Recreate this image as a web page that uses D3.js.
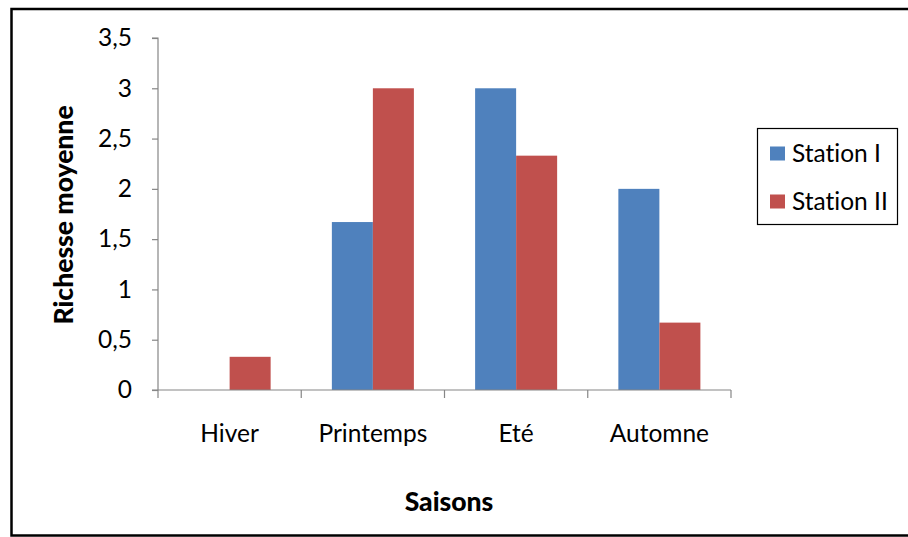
<!DOCTYPE html>
<html>
<head>
<meta charset="utf-8">
<script src="https://cdn.jsdelivr.net/npm/d3@7"></script>
<style>
  html, body { margin: 0; padding: 0; background: #fff; }
  svg { display: block; }
  text { font-family: Lato, "Open Sans", sans-serif; fill: #000; font-variant-ligatures: none; font-feature-settings: "liga" 0, "clig" 0; }
</style>
</head>
<body>
<script>
const categories = ["Hiver", "Printemps", "Eté", "Automne"];
const seriesNames = ["Station I", "Station II"];
const stationI = [0, 1.67, 3, 2];
const stationII = [0.33, 3, 2.33, 0.67];
const yTicks = [0, 0.5, 1, 1.5, 2, 2.5, 3, 3.5];
const yTickLabels = ["0", "0,5", "1", "1,5", "2", "2,5", "3", "3,5"];
const colors = ["#4F81BD", "#C0504D"];

(function () {
const W = 908, H = 537;
const svg = d3.select("body").append("svg").attr("width", W).attr("height", H);

// outer frame
svg.append("rect").attr("x", 11.5).attr("y", 9).attr("width", W + 10).attr("height", 526.5)
  .attr("fill", "#fff").attr("stroke", "#000").attr("stroke-width", 2.5);

const mLeft = 158, mRight = 731, mTop = 38, mBottom = 390;
const x0 = d3.scaleBand().domain(categories).range([mLeft, mRight]).padding(0);
const pad = x0.bandwidth() * 0.2137;
const x1 = d3.scaleBand().domain(seriesNames).range([pad, x0.bandwidth() - pad]).padding(0);
const y = d3.scaleLinear().domain([0, 3.5]).range([mBottom, mTop]);

const seriesVals = [stationI, stationII];

// bars
categories.forEach((c, i) => {
  seriesNames.forEach((s, j) => {
    const v = seriesVals[j][i];
    if (v > 0) {
      svg.append("rect")
        .attr("x", x0(c) + x1(s))
        .attr("y", y(v))
        .attr("width", x1.bandwidth())
        .attr("height", y(0) - y(v))
        .attr("fill", colors[j]);
    }
  });
});

const axisColor = "#868686";
const fs = 24.5;

// y axis
const yAxis = d3.axisLeft(y).tickValues(yTicks)
  .tickFormat((d, i) => yTickLabels[i]).tickSize(6).tickPadding(20);
const gy = svg.append("g").attr("transform", `translate(${mLeft},0)`).call(yAxis);
gy.select(".domain").attr("stroke", axisColor).attr("stroke-width", 1.2).attr("d", `M-6,${mTop}H0V${mBottom}`);
gy.selectAll(".tick line").attr("stroke", axisColor).attr("stroke-width", 1.2);
gy.selectAll(".tick text").attr("font-family", "Lato, sans-serif").attr("font-size", fs).attr("fill", "#000");

// x axis
const xAxis = d3.axisBottom(x0).tickSize(0).tickPadding(35);
const gx = svg.append("g").attr("transform", `translate(0,${mBottom})`).call(xAxis);
gx.select(".domain").attr("stroke", axisColor).attr("stroke-width", 1.2).attr("d", `M${mLeft - 6},0H${mRight}`);
gx.selectAll(".tick text").attr("font-family", "Lato, sans-serif").attr("font-size", fs).attr("fill", "#000");
// category boundary ticks
const bounds = categories.map(c => x0(c)).concat([x0(categories[categories.length - 1]) + x0.bandwidth()]);
gx.selectAll(".bound").data(bounds).enter().append("line")
  .attr("x1", d => d).attr("x2", d => d).attr("y1", 0).attr("y2", 8)
  .attr("stroke", axisColor).attr("stroke-width", 1.2);

// axis titles
svg.append("text").attr("x", 449).attr("y", 511).attr("text-anchor", "middle")
  .attr("font-weight", "900").attr("font-size", 26.5).text("Saisons");
svg.append("text").attr("transform", "translate(73,215) rotate(-90)").attr("text-anchor", "middle")
  .attr("font-weight", "900").attr("font-size", 26.5).text("Richesse moyenne");

// legend
const lg = svg.append("g");
lg.append("rect").attr("x", 757.5).attr("y", 128.5).attr("width", 140).attr("height", 96)
  .attr("fill", "#fff").attr("stroke", "#000").attr("stroke-width", 1.2);
seriesNames.forEach((s, j) => {
  const cy = 153.5 + j * 48;
  lg.append("rect").attr("x", 770).attr("y", cy - 7).attr("width", 15).attr("height", 14).attr("fill", colors[j]);
  lg.append("text").attr("x", 792).attr("y", cy).attr("dy", "0.36em").attr("font-size", fs).text(s);
});
})();
</script>
</body>
</html>
